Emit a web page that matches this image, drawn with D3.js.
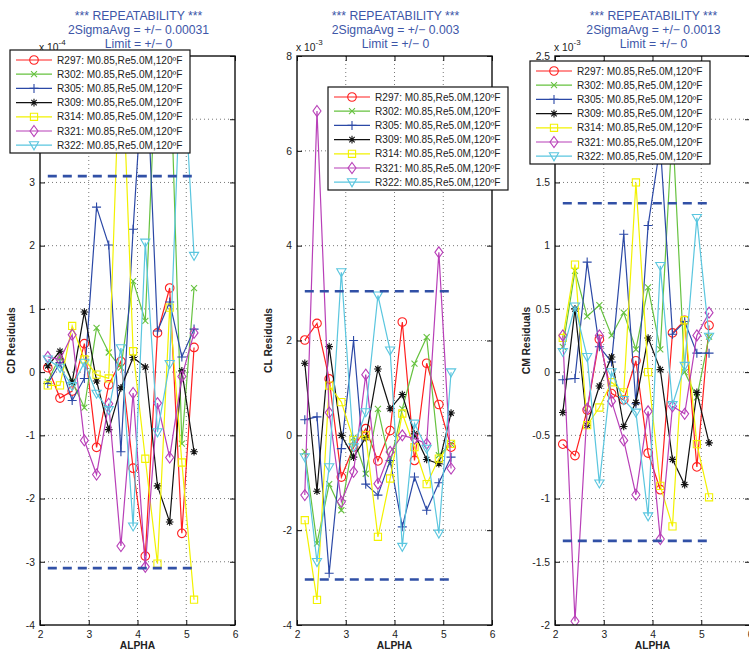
<!DOCTYPE html>
<html>
<head>
<meta charset="utf-8">
<script src="https://cdn.jsdelivr.net/npm/d3@7"></script>
<style>
  html, body { margin: 0; padding: 0; background: #fff; }
  svg { display: block; font-family: "Liberation Sans", Arial, Helvetica, sans-serif; }
</style>
</head>
<body>
<svg id="chart" width="749" height="651"></svg>
<script>
// ---------------- DATA ----------------
const alpha = [2.16, 2.41, 2.66, 2.91, 3.16, 3.41, 3.66, 3.91, 4.16, 4.41, 4.66, 4.91, 5.16];
const runs = ["R297", "R302", "R305", "R309", "R314", "R321", "R322"];
const runSuffix = ": M0.85,Re5.0M,120ºF";
const xTicks = [2, 3, 4, 5, 6];

// CD residuals (x 1e-4)
const cdValues = [
  [0.07, -0.41, -0.30, 0.45, -1.19, -0.20, 0.17, -1.52, -2.91, 0.62, 1.33, -2.55, 0.39],
  [-0.15, 0.25, -0.15, -0.56, 0.70, 0.31, 0.07, 1.44, 0.81, 5.4, 5.2, -1.13, 1.33],
  [-0.18, 0.15, -0.45, -0.10, 2.61, 2.01, -1.26, 2.26, 5.3, 0.65, 1.11, 0.24, 0.68],
  [0.10, 0.33, -0.16, 0.95, -0.14, -0.91, -0.25, 0.23, 0.08, -1.80, -2.37, 0.02, -1.26],
  [-0.21, -0.21, 0.73, 0.20, -0.04, -0.10, 5.5, 0.33, -1.37, -3.03, 1.02, -1.43, -3.60],
  [0.24, 0.20, 0.59, -1.08, -1.62, -0.50, -2.75, -0.33, -3.08, -0.49, -1.35, -0.07, 0.62],
  [0.20, 0.07, -0.22, 0.15, -0.34, -0.60, 0.38, -2.44, 2.05, -0.95, 0.13, 5.3, 1.84]
];
// CL residuals (x 1e-3)
const clValues = [
  [2.01, 2.36, 1.19, -0.88, -0.25, 0.14, -0.54, 0.10, 2.39, -0.53, 1.52, 0.65, -0.25],
  [-0.35, -2.28, -1.03, -1.58, -0.05, -0.81, 0.56, -0.60, 0.56, 1.51, 2.07, -0.42, -0.18],
  [0.33, 0.39, -2.91, -0.28, 2.00, -1.03, -1.26, -0.53, -1.93, -0.88, -1.58, -1.00, -0.46],
  [1.52, -1.18, 1.87, 0.00, -0.46, -0.05, 1.40, 0.56, 0.86, 0.03, -0.51, -0.60, 0.47],
  [-1.79, -3.47, 1.05, 0.70, -0.10, 0.00, -2.14, -0.91, 0.46, -0.25, -1.03, -0.49, -0.18],
  [-1.26, 6.84, 0.48, -1.40, -0.77, 1.28, -1.02, -0.35, 0.00, -0.07, -0.18, 3.86, -0.70],
  [-0.46, -2.67, -0.67, 3.44, -0.25, 0.49, 2.95, 1.79, -2.35, 0.25, -0.28, -2.07, 1.33]
];
// CM residuals (x 1e-3)
const cmValues = [
  [-0.57, -0.66, -0.30, 0.26, -0.17, -0.22, 0.09, -0.64, -0.93, 0.31, 0.41, -0.75, 0.37],
  [0.20, 0.80, 0.44, 0.53, 0.29, 0.47, 0.18, 0.67, 0.18, 1.95, 0.00, -0.20, 0.28],
  [-0.06, -0.05, 0.87, 0.20, 0.08, 1.09, -0.25, 1.16, 1.80, 0.30, 0.40, 0.15, 0.15],
  [-0.32, 0.50, -0.42, -0.11, 0.12, -0.43, -0.24, 0.27, 0.02, -0.69, -0.89, -0.16, -0.56],
  [0.27, 0.85, -0.42, -0.28, -0.08, -0.16, 1.50, 0.00, -0.90, -1.22, 0.41, -0.57, -0.99],
  [0.29, -1.97, -0.29, 0.29, -0.23, -0.54, -0.97, -0.31, -1.32, -0.27, -0.33, 0.29, 0.47],
  [0.16, 0.52, 0.12, -0.88, 0.00, -0.22, -0.32, -1.14, 0.84, -0.26, 0.05, 1.22, 0.28]
];

const cdTicks = [-4, -3, -2, -1, 0, 1, 2, 3, 4, 5];
const clTicks = [-4, -2, 0, 2, 4, 6, 8];
const cmTicks = [-2, -1.5, -1, -0.5, 0, 0.5, 1, 1.5, 2, 2.5];

const sigmaText = ["0.00031", "0.003", "0.0013"];
const limitBands = [3.1, 3.04, 1.335];
const exponents = ["-4", "-3", "-3"];
const yLabels = ["CD Residuals", "CL Residuals", "CM Residuals"];

// ---------------- STYLE ----------------
const colors = ["#ff1f1f", "#66c23f", "#2b48a6", "#111111", "#f2f200", "#b83fb8", "#5ac6df"];
const markers = ["o", "x", "+", "*", "s", "d", "v"];

const panels = [
  { values: cdValues, ticks: cdTicks, domain: [-4, 5], left: 40, right: 235, legend: [10, 50] },
  { values: clValues, ticks: clTicks, domain: [-4, 8], left: 297, right: 492, legend: [328, 87] },
  { values: cmValues, ticks: cmTicks, domain: [-2, 2.5], left: 555, right: 750, legend: [530, 61] }
];
const plotTop = 56, plotBottom = 625;

function markerPath(t) {
  switch (t) {
    case "o": return d3.symbol(d3.symbolCircle, 58)();
    case "x": return "M-3,-3L3,3M-3,3L3,-3";
    case "+": return "M-4.5,0L4.5,0M0,-4.5L0,4.5";
    case "*": return "M-3.8,0L3.8,0M0,-3.8L0,3.8M-2.7,-2.7L2.7,2.7M-2.7,2.7L2.7,-2.7";
    case "s": return "M-3.6,-3.6H3.6V3.6H-3.6Z";
    case "d": return "M0,-5.5L4,0L0,5.5L-4,0Z";
    case "v": return "M-4.6,-3.4L4.6,-3.4L0,4.6Z";
  }
}

const svg = d3.select("#chart");

panels.forEach((p, pi) => {
  const x = d3.scaleLinear().domain([2, 6]).range([p.left, p.right]);
  const y = d3.scaleLinear().domain(p.domain).range([plotBottom, plotTop]);
  const g = svg.append("g");
  const clipId = "clip" + pi;
  svg.append("clipPath").attr("id", clipId)
    .append("rect").attr("x", p.left).attr("y", plotTop)
    .attr("width", p.right - p.left).attr("height", plotBottom - plotTop);

  // grid
  const grid = g.append("g").attr("stroke", "#555").attr("stroke-width", 0.8)
    .attr("stroke-dasharray", "1,3");
  xTicks.slice(1, -1).forEach(t => grid.append("line")
    .attr("x1", x(t)).attr("x2", x(t)).attr("y1", plotTop).attr("y2", plotBottom));
  p.ticks.slice(1, -1).forEach(t => grid.append("line")
    .attr("x1", p.left).attr("x2", p.right).attr("y1", y(t)).attr("y2", y(t)));

  // series
  const plot = g.append("g").attr("clip-path", `url(#${clipId})`);
  const line = d3.line().x((d, i) => x(alpha[i])).y(d => y(d));
  p.values.forEach((vals, si) => {
    plot.append("path").datum(vals).attr("d", line)
      .attr("fill", "none").attr("stroke", colors[si]).attr("stroke-width", 1.2);
    plot.selectAll(null).data(vals).enter().append("path")
      .attr("transform", (d, i) => `translate(${x(alpha[i])},${y(d)})`)
      .attr("d", markerPath(markers[si]))
      .attr("fill", "none").attr("stroke", colors[si]).attr("stroke-width", 1.1);
  });

  // limit lines
  [limitBands[pi], -limitBands[pi]].forEach(v => {
    plot.append("line").attr("x1", x(alpha[0])).attr("x2", x(alpha[alpha.length - 1]))
      .attr("y1", y(v)).attr("y2", y(v))
      .attr("stroke", "#3150a6").attr("stroke-width", 2.6).attr("stroke-dasharray", "9,6");
  });

  // axes
  const fmt = d => String(d);
  const axL = g.append("g").attr("transform", `translate(${p.left},0)`)
    .call(d3.axisLeft(y).tickValues(p.ticks).tickSize(-5).tickSizeOuter(0).tickPadding(5).tickFormat(fmt));
  const axR = g.append("g").attr("transform", `translate(${p.right},0)`)
    .call(d3.axisRight(y).tickValues(p.ticks).tickSize(-5).tickSizeOuter(0).tickFormat(""));
  const axB = g.append("g").attr("transform", `translate(0,${plotBottom})`)
    .call(d3.axisBottom(x).tickValues(xTicks).tickSize(-5).tickSizeOuter(0).tickPadding(6).tickFormat(d3.format("d")));
  const axT = g.append("g").attr("transform", `translate(0,${plotTop})`)
    .call(d3.axisTop(x).tickValues(xTicks).tickSize(-5).tickSizeOuter(0).tickFormat(""));
  [axL, axR, axB, axT].forEach(a => {
    a.select(".domain").remove();
    a.selectAll(".tick line").attr("stroke", "#111").attr("stroke-width", 1);
    a.selectAll("text").attr("font-size", "10.3px").attr("fill", "#222")
      .attr("font-family", "Liberation Sans, Arial, sans-serif");
  });
  g.append("rect").attr("x", p.left).attr("y", plotTop)
    .attr("width", p.right - p.left).attr("height", plotBottom - plotTop)
    .attr("fill", "none").attr("stroke", "#111").attr("stroke-width", 1.4);

  const cx = (p.left + p.right) / 2;
  // titles
  const title = ["*** REPEATABILITY ***", `2SigmaAvg = +/− ${sigmaText[pi]}`, "Limit = +/− 0"];
  title.forEach((t, i) => g.append("text").attr("x", cx + 1).attr("y", 19.8 + i * 14.3)
    .attr("text-anchor", "middle").attr("font-size", "12.2px").attr("fill", "#3d56a8").text(t));

  // axis labels
  g.append("text").attr("x", cx).attr("y", 649).attr("text-anchor", "middle")
    .attr("font-size", "10.3px").attr("font-weight", "bold").attr("fill", "#222").text("ALPHA");
  const ylx = p.left - 25;
  g.append("text").attr("transform", `translate(${ylx},${(plotTop + plotBottom) / 2}) rotate(-90)`)
    .attr("text-anchor", "middle").attr("font-size", "10.3px").attr("font-weight", "bold")
    .attr("fill", "#222").text(yLabels[pi]);

  // exponent
  const ex = g.append("text").attr("x", p.left - 1).attr("y", 51).attr("font-size", "10.3px").attr("fill", "#222");
  ex.append("tspan").text("x 10");
  ex.append("tspan").attr("dy", -6).attr("font-size", "8px").text(exponents[pi]);
});

// legends drawn on top
panels.forEach((p, pi) => {
  const [lx, ly] = p.legend;
  const lg = svg.append("g").attr("transform", `translate(${lx},${ly})`);
  lg.append("rect").attr("width", 180).attr("height", 103)
    .attr("fill", "#fff").attr("stroke", "#111").attr("stroke-width", 1.2);
  runs.forEach((r, si) => {
    const ry = 10 + si * 14.2;
    lg.append("line").attr("x1", 6).attr("x2", 42).attr("y1", ry).attr("y2", ry)
      .attr("stroke", colors[si]).attr("stroke-width", 1.2);
    lg.append("path").attr("transform", `translate(24,${ry})`).attr("d", markerPath(markers[si]))
      .attr("fill", "none").attr("stroke", colors[si]).attr("stroke-width", 1.1);
    lg.append("text").attr("x", 47).attr("y", ry + 3.6).attr("font-size", "10.1px")
      .attr("fill", "#222").text(r + runSuffix);
  });
});
</script>
</body>
</html>
